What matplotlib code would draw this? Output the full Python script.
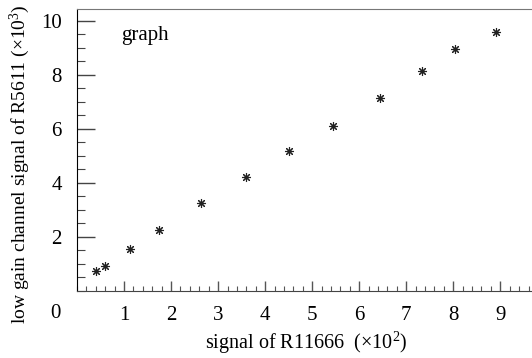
import numpy as np
import matplotlib
matplotlib.use("Agg")
import matplotlib.pyplot as plt
from matplotlib.ticker import MultipleLocator

plt.rcParams['font.family'] = ['Liberation Serif', 'DejaVu Serif']
plt.rcParams['mathtext.fontset'] = 'custom'
plt.rcParams['mathtext.rm'] = 'Liberation Serif'
plt.rcParams['mathtext.default'] = 'regular'

# data (x in 10^2, y in 10^3)
r11666 = [0.41, 0.60, 1.13, 1.75, 2.64, 3.60, 4.50, 5.45, 6.44, 7.33, 8.03, 8.90]
r5611_low = [0.74, 0.91, 1.57, 2.24, 3.24, 4.21, 5.16, 6.09, 7.14, 8.13, 8.95, 9.57]
x_ticks = [1, 2, 3, 4, 5, 6, 7, 8, 9]
y_ticks = [2, 4, 6, 8, 10]

W, H = 532, 358
fig = plt.figure(figsize=(W / 100, H / 100), dpi=100)
left, bottom, top = 77, 291, 9
ax = fig.add_axes([left / W, 1 - bottom / H, 1.02 - left / W, (bottom - top) / H])

ax.plot(r11666, r5611_low, linestyle='none', marker=(8, 2, 0), markersize=6.5,
        markeredgewidth=0.8, color='#222222')

ax.set_xlim(0, 9.9)
ax.set_ylim(0, 10.43)

ax.spines['right'].set_visible(False)
ax.spines['top'].set_color('#777777')
ax.spines['left'].set_color('black')
ax.spines['bottom'].set_color('#444444')

ax.set_xticks(x_ticks)
ax.set_xticklabels([str(v) for v in x_ticks])
ax.xaxis.set_minor_locator(MultipleLocator(0.2))
ax.set_yticks(y_ticks)
ax.set_yticklabels([str(v) for v in y_ticks])
ax.yaxis.set_minor_locator(MultipleLocator(0.5))

ax.tick_params(axis='x', which='major', direction='in', length=7, width=1,
               pad=10.5, labelsize=15, color='#555555')
ax.tick_params(axis='x', which='minor', direction='in', length=3.5, width=0.8,
               color='#555555')
ax.tick_params(axis='y', which='major', direction='in', length=13, width=1,
               pad=11, labelsize=15, color='#444444')
ax.tick_params(axis='y', which='minor', direction='in', length=6, width=0.8,
               color='#444444')

# "0" label shared by both axes
fig.text(55 / W, 1 - 313 / H, '0', fontsize=15, ha='center', va='center')

ax.text(0.095, 0.905, 'graph', transform=ax.transAxes, fontsize=15,
        ha='left', va='center')

fig.text(306 / W, 1 - 343 / H, r'signal of R11666  (×10$^{2}$)', fontsize=14.5,
         ha='center', va='center')
fig.text(20 / W, 1 - 164 / H, r'low gain channel signal of R5611 (×10$^{3}$)',
         fontsize=14, ha='center', va='center', rotation=90)

fig.savefig('out.png', dpi=100)
